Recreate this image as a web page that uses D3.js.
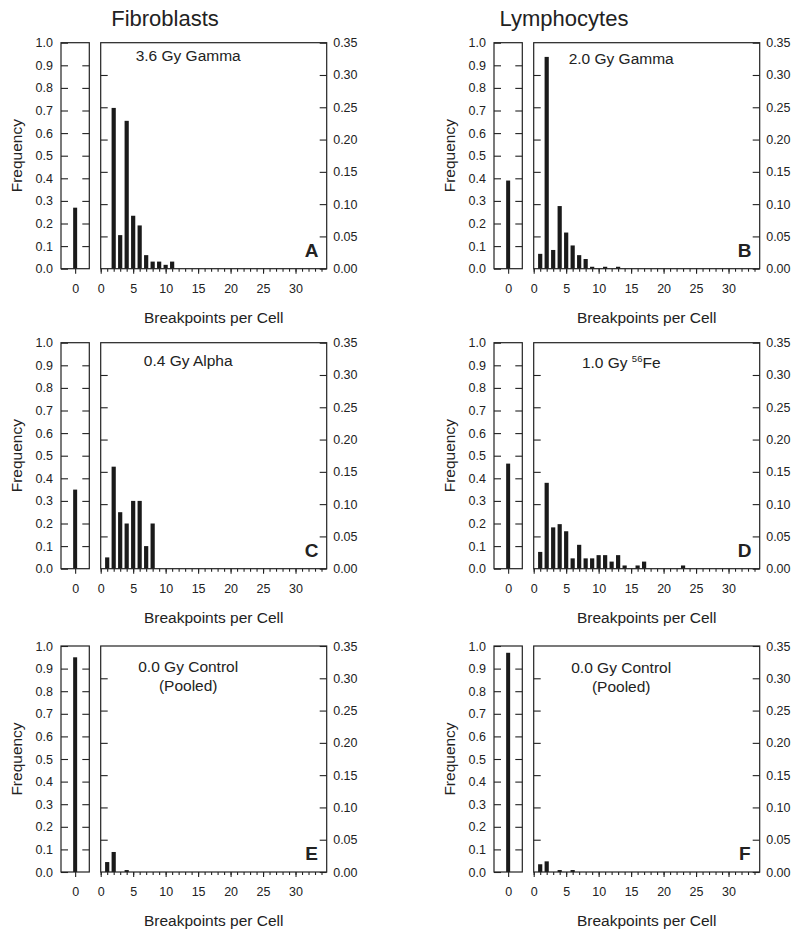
<!DOCTYPE html>
<html>
<head>
<meta charset="utf-8">
<script src="https://cdn.jsdelivr.net/npm/d3@7"></script>
<style>
  html, body { margin: 0; padding: 0; background: #fff; }
  svg { display: block; }
  text { font-family: "Liberation Sans", Arial, sans-serif; fill: #222; }
</style>
</head>
<body>
<svg id="chart" width="800" height="939"></svg>
<script>
// ---------------- DATA ----------------
const columnTitles = ["Fibroblasts", "Lymphocytes"];
const panelLetters = ["A", "B", "C", "D", "E", "F"];
const conditionLines = [
  ["3.6 Gy Gamma"],
  ["2.0 Gy Gamma"],
  ["0.4 Gy Alpha"],
  ["1.0 Gy |56|Fe"],
  ["0.0 Gy Control", "(Pooled)"],
  ["0.0 Gy Control", "(Pooled)"]
];
// frequency of cells with 0 breakpoints (left axis, 0-1)
const zeroFreq = [0.27, 0.39, 0.35, 0.465, 0.95, 0.97];

// breakpoints per cell >= 1 (right axis, 0-0.35)
const binsA = [1, 2, 3, 4, 5, 6, 7, 8, 9, 10, 11];
const freqA = [0, 0.249, 0.052, 0.229, 0.082, 0.067, 0.021, 0.011, 0.011, 0.006, 0.011];
const binsB = [1, 2, 3, 4, 5, 6, 7, 8, 9, 11, 13];
const freqB = [0.023, 0.328, 0.029, 0.097, 0.056, 0.036, 0.021, 0.015, 0.003, 0.003, 0.003];
const binsC = [1, 2, 3, 4, 5, 6, 7, 8];
const freqC = [0.0175, 0.158, 0.0875, 0.070, 0.105, 0.105, 0.035, 0.070];
const binsD = [1, 2, 3, 4, 5, 6, 7, 8, 9, 10, 11, 12, 13, 14, 16, 17, 23];
const freqD = [0.026, 0.133, 0.064, 0.069, 0.058, 0.016, 0.037, 0.016, 0.016, 0.021, 0.021, 0.011, 0.021, 0.005, 0.005, 0.011, 0.005];
const binsE = [1, 2, 4];
const freqE = [0.0154, 0.031, 0.003];
const binsF = [1, 2, 4, 6];
const freqF = [0.012, 0.0165, 0.003, 0.003];

const leftTicks = [0, 0.1, 0.2, 0.3, 0.4, 0.5, 0.6, 0.7, 0.8, 0.9, 1.0];
const rightTicks = [0, 0.05, 0.10, 0.15, 0.20, 0.25, 0.30, 0.35];
const xMajorTicks = [0, 5, 10, 15, 20, 25, 30];
const xMinorTicks = d3.range(0, 35);

const xLabel = "Breakpoints per Cell";
const yLabel = "Frequency";

const panelBins = [binsA, binsB, binsC, binsD, binsE, binsF];
const panelFreqs = [freqA, freqB, freqC, freqD, freqE, freqF];

// ---------------- LAYOUT ----------------
const colOffset = [0, 433];
const smallL = 61, smallR = 89.3, mainL = 100.7, mainR = 326.7;
const rowTops = [42.7, 342.7, 646];
const panelH = 226;
const condOffsets = [[12.3], [15.6], [17.3], [19.6], [20.7, 39], [21.3, 40]];
const ink = "#222";

const svg = d3.select("#chart");

// column titles
columnTitles.forEach((t, c) => {
  svg.append("text")
    .attr("x", [165, 564][c])
    .attr("y", 26)
    .attr("text-anchor", "middle")
    .style("font-size", "22px")
    .text(t);
});

function styleAxis(g) {
  g.select(".domain").remove();
  g.selectAll(".tick line").attr("stroke", ink).attr("stroke-width", 1.1);
  g.selectAll(".tick text").style("font-size", "12.5px").attr("fill", ink)
    .style("font-family", "'Liberation Sans', Arial, sans-serif");
}

panelLetters.forEach((letter, i) => {
  const col = i % 2, row = Math.floor(i / 2);
  const ox = colOffset[col];
  const top = rowTops[row], bottom = top + panelH;
  const g = svg.append("g");

  const yL = d3.scaleLinear().domain([0, 1]).range([bottom, top]);
  const yR = d3.scaleLinear().domain([0, 0.35]).range([bottom, top]);
  const xS = d3.scaleLinear().domain([-1, 1]).range([ox + smallL, ox + smallR]);
  const xM = d3.scaleLinear().domain([0, 34.8]).range([ox + mainL, ox + mainR]);

  // ---- small (zero-class) panel ----
  g.append("g").attr("transform", `translate(${ox + smallL},0)`)
    .call(d3.axisLeft(yL).tickValues(leftTicks).tickSize(-7).tickPadding(8).tickFormat(d3.format(".1f")))
    .call(styleAxis);
  g.append("g").attr("transform", `translate(${ox + smallR},0)`)
    .call(d3.axisRight(yL).tickValues(leftTicks.slice(1, -1)).tickSize(-7).tickFormat(""))
    .call(styleAxis);
  g.append("g").attr("transform", `translate(0,${bottom})`)
    .call(d3.axisBottom(xS).tickValues([0]).tickSize(5).tickPadding(10).tickFormat(d3.format("d")))
    .call(styleAxis);

  g.append("rect")
    .attr("x", xS(0) - 2).attr("width", 4)
    .attr("y", yL(zeroFreq[i])).attr("height", yL(0) - yL(zeroFreq[i]))
    .attr("fill", "#1a1a1a");

  g.append("rect")
    .attr("x", ox + smallL).attr("y", top)
    .attr("width", smallR - smallL).attr("height", panelH)
    .attr("fill", "none").attr("stroke", ink).attr("stroke-width", 1.2);

  // ---- main panel ----
  g.append("g").attr("transform", `translate(${ox + mainL},0)`)
    .call(d3.axisLeft(yR).tickValues(rightTicks.slice(1, -1)).tickSize(-7).tickFormat(""))
    .call(styleAxis);
  g.append("g").attr("transform", `translate(${ox + mainR},0)`)
    .call(d3.axisRight(yR).tickValues(rightTicks).tickSize(-7).tickPadding(6.5).tickFormat(d3.format(".2f")))
    .call(styleAxis);
  g.append("g").attr("transform", `translate(0,${bottom})`)
    .call(d3.axisBottom(xM).tickValues(xMinorTicks).tickSize(3).tickFormat(""))
    .call(styleAxis);
  g.append("g").attr("transform", `translate(0,${bottom})`)
    .call(d3.axisBottom(xM).tickValues(xMajorTicks).tickSize(5).tickPadding(10).tickFormat(d3.format("d")))
    .call(styleAxis);

  const bins = panelBins[i], freqs = panelFreqs[i];
  g.selectAll("rect.bar").data(bins.map((b, k) => ({ b, f: freqs[k] })).filter(d => d.f > 0))
    .enter().append("rect").attr("class", "bar")
    .attr("x", d => xM(d.b) - 2.1).attr("width", 4.2)
    .attr("y", d => yR(d.f)).attr("height", d => yR(0) - yR(d.f))
    .attr("fill", "#1a1a1a");

  g.append("rect")
    .attr("x", ox + mainL).attr("y", top)
    .attr("width", mainR - mainL).attr("height", panelH)
    .attr("fill", "none").attr("stroke", ink).attr("stroke-width", 1.2);

  // condition text
  const cx = ox + mainL + 87.5;
  conditionLines[i].forEach((line, k) => {
    const t = g.append("text")
      .attr("x", cx).attr("y", top + condOffsets[i][k] + 5.5)
      .attr("text-anchor", "middle")
      .style("font-size", "15.5px");
    const parts = line.split("|");
    if (parts.length === 3) {
      t.append("tspan").text(parts[0]);
      t.append("tspan").attr("dy", -6).style("font-size", "9.5px").text(parts[1]);
      t.append("tspan").attr("dy", 6).text(parts[2]);
    } else {
      t.text(line);
    }
  });

  // panel letter
  g.append("text")
    .attr("x", ox + mainR - 15).attr("y", bottom - 12)
    .attr("text-anchor", "middle")
    .style("font-size", "19px").style("font-weight", "bold")
    .text(letter);

  // axis titles
  g.append("text")
    .attr("x", (ox + mainL + ox + mainR) / 2).attr("y", bottom + 54)
    .attr("text-anchor", "middle")
    .style("font-size", "15.5px")
    .text(xLabel);
  g.append("text")
    .attr("transform", `translate(${ox + 21.5},${top + panelH / 2}) rotate(-90)`)
    .attr("text-anchor", "middle")
    .style("font-size", "15.5px")
    .text(yLabel);
});
</script>
</body>
</html>
